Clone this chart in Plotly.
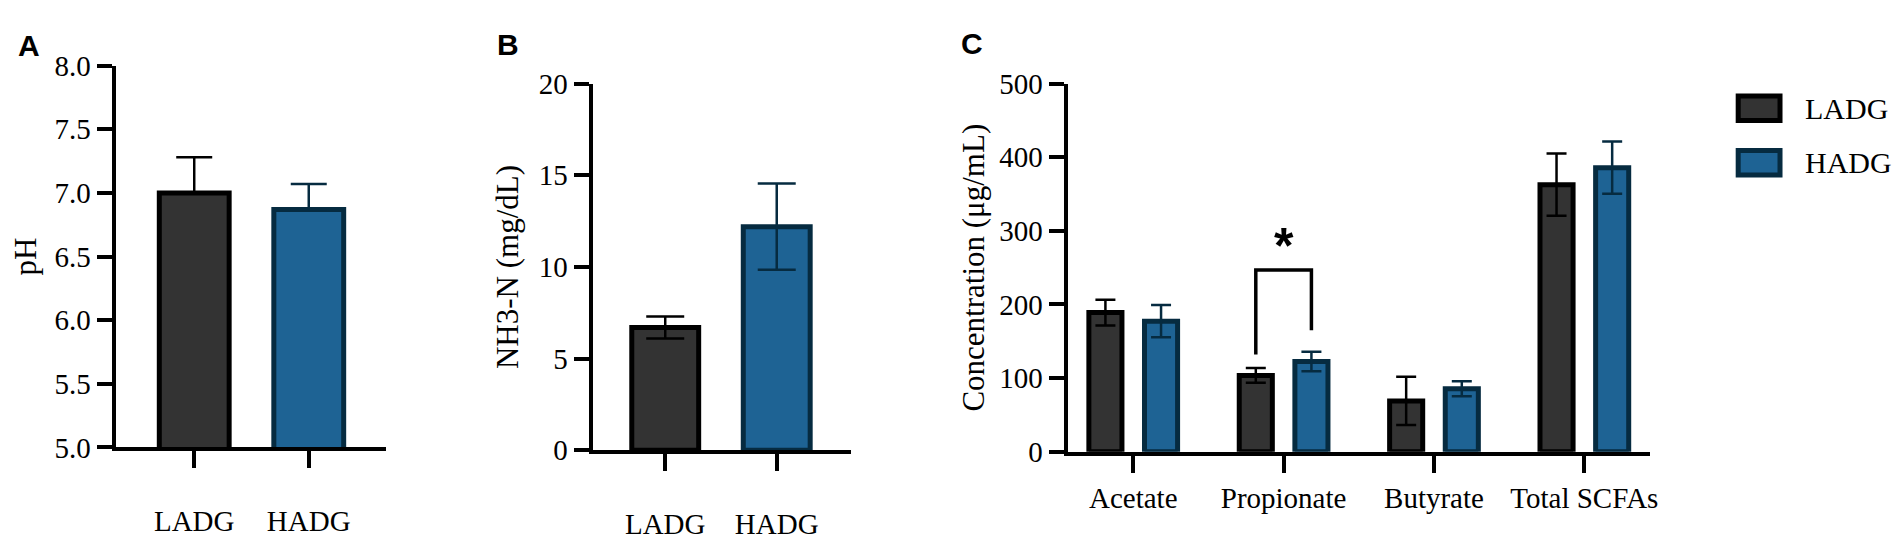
import plotly.graph_objects as go

# data
groups = ["LADG", "HADG"]
ph_mean = [7.0, 6.87]
ph_err = [0.28, 0.2]
nh3_mean = [6.7, 12.2]
nh3_err = [0.6, 2.35]
acids = ["Acetate", "Propionate", "Butyrate", "Total SCFAs"]
scfa_ladg = [189, 103.6, 69, 362.8]
scfa_ladg_err = [17.5, 10, 32.8, 42.3]
scfa_hadg = [177.3, 122.5, 85.5, 385.8]
scfa_hadg_err = [21.9, 13.2, 10.2, 35.5]
sig_levels = [132, 165, 247]   # bracket: left foot, right foot, top (propionate)

W, H = 1902, 543
fill = {"LADG": "#333333", "HADG": "#1E6394"}
edge = {"LADG": "#000000", "HADG": "#062B40"}
serif = "Liberation Serif, Times New Roman, serif"
sans = "Liberation Sans, Arial, sans-serif"


def px_x(a, b):
    return [a / W, b / W]


def px_y(top, bottom):
    return [1 - bottom / H, 1 - top / H]


fig = go.Figure()

# panel A (y axis starts at 5, bars are clipped by the axis)
for i, g in enumerate(groups):
    fig.add_trace(go.Bar(
        x=[i], y=[ph_mean[i]], width=0.61, name=g, showlegend=False,
        marker=dict(color=fill[g], line=dict(color=edge[g], width=5)),
        error_y=dict(type="data", symmetric=False, array=[ph_err[i]], arrayminus=[0],
                     color=edge[g], thickness=2.5, width=18),
        xaxis="x", yaxis="y"))

# panel B
for i, g in enumerate(groups):
    fig.add_trace(go.Bar(
        x=[i], y=[nh3_mean[i]], width=0.6, name=g, showlegend=False,
        marker=dict(color=fill[g], line=dict(color=edge[g], width=5)),
        error_y=dict(type="data", array=[nh3_err[i]], color=edge[g], thickness=2.5, width=19),
        xaxis="x2", yaxis="y2"))

# panel C
xs = list(range(len(acids)))
for g, vals, errs, off in [("LADG", scfa_ladg, scfa_ladg_err, -0.295),
                           ("HADG", scfa_hadg, scfa_hadg_err, 0.075)]:
    fig.add_trace(go.Bar(
        x=xs, y=vals, width=0.22, offset=off, name=g, showlegend=False,
        marker=dict(color=fill[g], line=dict(color=edge[g], width=5)),
        error_y=dict(type="data", array=errs, color=edge[g], thickness=2.5, width=10),
        xaxis="x3", yaxis="y3"))

# significance bracket over Propionate
pi = acids.index("Propionate")
fig.add_trace(go.Scatter(
    x=[pi - 0.185, pi - 0.185, pi + 0.185, pi + 0.185],
    y=[sig_levels[0], sig_levels[2], sig_levels[2], sig_levels[1]],
    mode="lines", line=dict(color="black", width=3.5), showlegend=False,
    xaxis="x3", yaxis="y3"))

axis_common = dict(showline=True, linecolor="black", linewidth=4, ticks="outside",
                   tickcolor="black", tickwidth=4, showgrid=False, zeroline=False,
                   tickfont=dict(family=serif, size=29, color="black"))
title_font = dict(family=serif, size=31, color="black")

fig.update_layout(
    width=W, height=H, margin=dict(l=0, r=0, t=0, b=0),
    paper_bgcolor="white", plot_bgcolor="white", barmode="overlay",
    font=dict(family=serif, size=29, color="black"),
    xaxis=dict(domain=px_x(108, 380), range=[-0.687, 1.678], tickvals=[0, 1], ticktext=groups,
               ticklen=17, ticklabelstandoff=28, anchor="y", **axis_common),
    yaxis=dict(domain=px_y(44.3, 450), range=[5, 8], tickvals=[5, 5.5, 6, 6.5, 7, 7.5, 8],
               tickformat=".1f", ticklen=15, anchor="x",
               title=dict(text="pH", standoff=12, font=title_font), **axis_common),
    xaxis2=dict(domain=px_x(587, 847), range=[-0.652, 1.67], tickvals=[0, 1], ticktext=groups,
                ticklen=17, ticklabelstandoff=28, anchor="y2", **axis_common),
    yaxis2=dict(domain=px_y(63.4, 453), range=[0, 20], dtick=5, ticklen=15, anchor="x2",
                title=dict(text="NH3-N (mg/dL)", standoff=12, font=title_font), **axis_common),
    xaxis3=dict(domain=px_x(1064, 1649), range=[-0.437, 3.437], tickvals=xs, ticktext=acids,
                ticklen=17, ticklabelstandoff=0, anchor="y3", **axis_common),
    yaxis3=dict(domain=px_y(63.4, 454.5), range=[0, 500], dtick=100, ticklen=15, anchor="x3",
                title=dict(text="Concentration (μg/mL)", standoff=6, font=title_font),
                **axis_common),
)

# star above the bracket
fig.add_annotation(x=pi, y=sig_levels[2], xref="x3", yref="y3", text="<b>*</b>",
                   showarrow=False, yanchor="bottom", yshift=-6,
                   font=dict(family=sans, size=50, color="black"))

# panel letters
for letter, cx, cy in [("A", 21, 23), ("B", 502, 22), ("C", 968, 21)]:
    fig.add_annotation(x=cx / W, y=1 - cy / H, xref="paper", yref="paper", text="<b>%s</b>" % letter,
                       showarrow=False, xanchor="center", yanchor="middle",
                       font=dict(family=sans, size=30, color="black"))

# legend drawn as swatches + labels
for g, top in zip(groups, [74, 132]):
    fig.add_shape(type="rect", xref="paper", yref="paper",
                  x0=1737.5 / W, x1=1779.5 / W, y0=1 - (top + 28.5) / H, y1=1 - (top + 2.5) / H,
                  fillcolor=fill[g], line=dict(color=edge[g], width=5))
    fig.add_annotation(x=1803 / W, y=1 - (top + 15.5) / H, xref="paper", yref="paper", text=g,
                       showarrow=False, xanchor="left", yanchor="middle",
                       font=dict(family=serif, size=30, color="black"))

fig.write_html("out.html")
